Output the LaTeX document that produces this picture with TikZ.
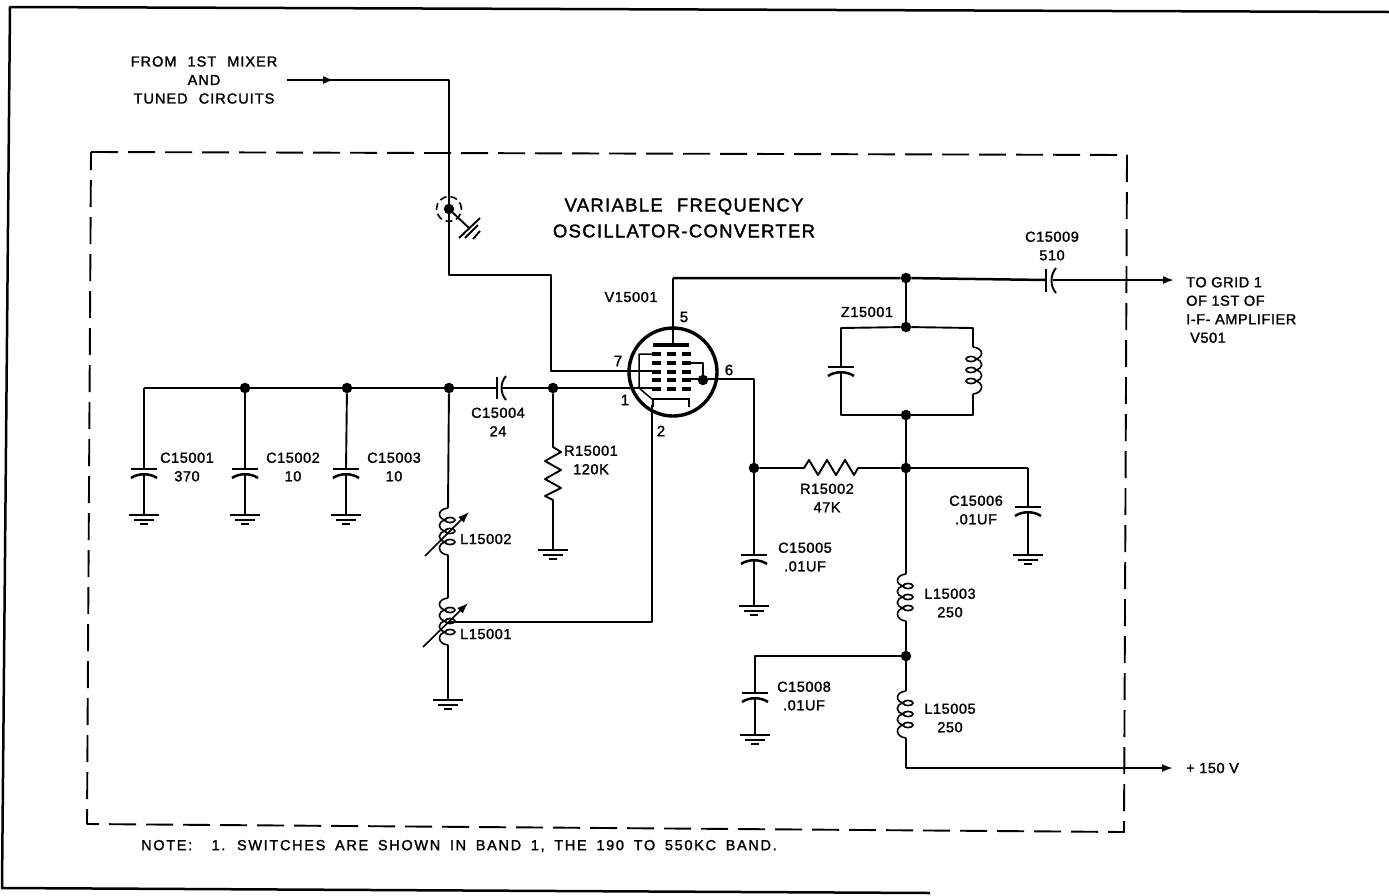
\documentclass[tikz,border=0pt]{standalone}
\usepackage{fontspec}
\setmainfont{Liberation Sans}[LetterSpace=4,FakeBold=1.6]
\newfontfamily\widefont{Liberation Sans}[LetterSpace=7,WordSpace=2.2,FakeBold=1.6]
\newfontfamily\notefont{Liberation Sans}[LetterSpace=11.6,WordSpace=1.7,FakeBold=1.6]
\usetikzlibrary{calc,positioning,arrows,arrows.meta}

\tikzset{
    wire/.style={line width=1.9pt,line join=round},
    rail/.style={line width=2.5pt,line join=round},
    heavy/.style={line width=3.4pt},
    dot/.style={circle,fill=black,inner sep=0pt,minimum size=10.5pt},
    lbl/.style={align=center,inner sep=0pt,font=\fontsize{14.5}{18.5}\selectfont},
    lblleft/.style={lbl,anchor=west,align=left},
    widelbl/.style={lbl,font=\fontsize{14.5}{18.5}\selectfont\widefont},
    notelbl/.style={lbl,anchor=west,font=\fontsize{14.5}{18.5}\selectfont\notefont},
    title/.style={align=center,inner sep=0pt,font=\fontsize{18.5}{26}\selectfont\widefont},
    pin/.style={inner sep=0pt,font=\fontsize{15}{18}\selectfont},
    tiparrow/.style={wire,-{Latex[length=11pt,width=8pt]}},
    capv/.pic={
        \coordinate (-top) at (0,0);
        \coordinate (-bot) at (0,5);
        \draw[rail] (-13,0) -- (13,0);
        \draw[rail] (-13,9) .. controls (-6,4) and (6,4) .. (13,9);
    },
    gnd/.pic={
        \draw[rail] (-15,0) -- (15,0);
        \draw[rail] (-10,5) -- (10,5);
        \draw[rail] (-4,9) -- (4,9);
    },
    coil/.pic={
        \coordinate (-top) at (0,0);
        \coordinate (-bot) at (0,47);
        \draw[wire,line width=1.6pt] (0,0) .. controls (-11,1) and (-11,11) .. (-2,12)
            .. controls (-11,13) and (-11,22) .. (-2,23)
            .. controls (-11,24) and (-11,33) .. (-2,34)
            .. controls (-11,35) and (-11,46) .. (0,47);
        \foreach \ly in {12,23,34}
            \draw[line width=1.6pt] (2,\ly) ellipse (5 and 2.6);
    },
}

\begin{document}
\begin{tikzpicture}[x=1pt,y=-1pt]
    \useasboundingbox (0,0) rectangle (1389,895);

    % Frame.
    \coordinate (frametr) at (1389,12);
    \coordinate (frametl) at (10,7);
    \coordinate (framebl) at (2,888);
    \coordinate (framebr) at (930,893);
    \draw[rail] (frametr) -- (frametl) -- (framebl) -- (framebr);

    % Dashed box.
    \coordinate (boxtl) at (91,152);
    \coordinate (boxtr) at (1127,155);
    \coordinate (boxbr) at (1124,832);
    \coordinate (boxbl) at (87,824);
    \draw[wire,dash pattern=on 27pt off 10pt] (boxtl) -- (boxtr) -- (boxbr) -- (boxbl) -- cycle;

    % Input from mixer.
    \node[widelbl] (fromlbl) at (204,80) {FROM 1ST MIXER\\AND\\TUNED CIRCUITS};
    \coordinate (mixstart) at (287,80);
    \coordinate (mixtip) at (334,80);
    \coordinate (mixcorner) at (449,80);
    \coordinate (shieldcorner) at (449,275);
    \coordinate (gridcorner) at (551,275);
    \coordinate (gridturn) at (551,371);
    \coordinate (gridthree) at (653,371);
    \draw[wire] (mixstart) -- (mixcorner) -- (shieldcorner) -- (gridcorner) -- (gridturn) -- (gridthree);
    \draw[tiparrow] (mixstart) -- (mixtip);

    % Shield.
    \node[dot] (shielddot) at (449,209) {};
    \node[circle,draw,line width=1.6pt,dash pattern=on 7pt off 4pt,minimum size=25pt,inner sep=0pt] (shield) at (449,209) {};
    \coordinate (hatch) at (469,228);
    \draw[wire] (shielddot) -- (hatch);
    \draw[wire] (480,218) -- (459,238);
    \draw[wire] (478,225) -- (465,238);
    \draw[wire] (480,231) -- (473,239);

    \node[title] (titlelbl) at (684,218) {VARIABLE FREQUENCY\\OSCILLATOR-CONVERTER};

    % Tube.
    \node[circle,draw,line width=3.4pt,minimum size=88pt,inner sep=0pt] (tube) at (673,372) {};
    \node[lbl] (tubelbl) at (631,297) {V15001};
    \node[pin] (pinfive) at (684,317) {5};
    \node[pin] (pinseven) at (618,361) {7};
    \node[pin] (pinsix) at (729,370) {6};
    \node[pin] (pinone) at (625,400) {1};
    \node[pin] (pintwo) at (661,431) {2};
    \foreach \ry in {354,363,372,380,389}
        \foreach \rx in {652,667,682}
            \draw[heavy] (\rx,\ry) -- (\rx+9,\ry);
    \draw[heavy] (653,345) -- (689,345);
    \draw[line width=2.6pt] (653,407) -- (653,399) -- (689,399) -- (689,407);
    \draw[wire,line width=1.5pt] (652,354) -- (639,354) -- (639,388) -- (653,400);
    \coordinate (screen) at (691,363);
    \coordinate (screenturn) at (703,363);
    \node[dot] (cathdot) at (703,380) {};
    \draw[wire] (screen) -- (screenturn) -- (cathdot);

    % Top rail.
    \coordinate (platetop) at (673,278);
    \coordinate (plate) at (673,345);
    \node[dot] (railz) at (906,278) {};
    \coordinate (cnineleft) at (1046,280);
    \coordinate (cnineright) at (1053,280);
    \coordinate (railtip) at (1174,280);
    \draw[wire] (plate) -- (platetop);
    \draw[rail] (platetop) -- (railz) -- (cnineleft);
    \draw[wire] (1046,269) -- (1046,292);
    \draw[wire] (1056,268) .. controls (1050,275) and (1050,286) .. (1056,293);
    \draw[tiparrow] (cnineright) -- (railtip);
    \node[lbl] (cninelbl) at (1052,246) {C15009\\510};
    \node[lblleft] (gridlbl) at (1186,310) {TO GRID 1\\OF 1ST OF\\I-F- AMPLIFIER\\\hspace*{4pt}V501};

    % Z15001
    \node[dot] (ztop) at (906,327) {};
    \node[dot] (zbot) at (906,415) {};
    \node[lbl] (zlbl) at (867,312) {Z15001};
    \coordinate (ztl) at (841,328);
    \coordinate (ztr) at (973,328);
    \coordinate (zbl) at (841,415);
    \coordinate (zbr) at (973,415);
    \pic (zcap) at (841,367) {capv};
    \pic[xscale=-1] (zcoil) at (973,347) {coil};
    \draw[wire] (railz) -- (ztop);
    \draw[wire] (zcap-top) -- (ztl) -- (ztop) -- (ztr) -- (zcoil-top);
    \draw[wire] (zcap-bot) -- (zbl) -- (zbot) -- (zbr) -- (zcoil-bot);

    % Grid line.
    \coordinate (gridend) at (144,388);
    \coordinate (gridone) at (653,388);
    \node[dot] (railtwo) at (245,388) {};
    \node[dot] (railthree) at (347,388) {};
    \node[dot] (railcoil) at (449,388) {};
    \node[dot] (railres) at (553,388) {};
    \coordinate (cfourleft) at (497,388);
    \coordinate (cfourright) at (502,388);
    \draw[rail] (gridend) -- (railtwo) -- (railthree) -- (railcoil) -- (cfourleft);
    \draw[wire] (497,377) -- (497,399);
    \draw[wire] (506,376) .. controls (500,383) and (500,393) .. (506,400);
    \draw[rail] (cfourright) -- (railres) -- (gridone);
    \node[lbl] (cfourlbl) at (498,422) {C15004\\24};

    % C15001 to C15003
    \foreach \c/\x/\from/\txt/\val/\tx in {1/144/gridend/C15001/370/187,2/245/railtwo/C15002/10/293,3/346/railthree/C15003/10/394}
    {
        \pic (cap\c) at (\x,469) {capv};
        \pic at (\x,515) {gnd};
        \coordinate (gnd\c) at (\x,515);
        \draw[wire] (\from) -- (cap\c-top);
        \draw[wire] (cap\c-bot) -- (gnd\c);
        \node[lbl] (cap\c lbl) at (\tx,467) {\txt\\\val};
    }

    % R15001
    \coordinate (rtop) at (553,447);
    \coordinate (rbot) at (553,500);
    \coordinate (rgnd) at (553,550);
    \draw[wire] (railres) -- (rtop) -- (561,452) -- (545,461) -- (561,470) -- (545,479) -- (561,488) -- (545,496) -- (rbot) -- (rgnd);
    \pic at (553,550) {gnd};
    \node[lbl] (rlbl) at (591,460) {R15001\\120K};

    % L15002 and L15001
    \pic (ltwo) at (448,508) {coil};
    \pic (lone) at (448,598) {coil};
    \coordinate (lgnd) at (448,700);
    \pic at (448,700) {gnd};
    \draw[wire] (railcoil) -- (ltwo-top);
    \draw[wire] (ltwo-bot) -- (lone-top);
    \draw[wire] (lone-bot) -- (lgnd);
    \coordinate (ltwostart) at (425,556);
    \coordinate (ltwotip) at (469,512);
    \coordinate (lonestart) at (423,647);
    \coordinate (lonetip) at (468,603);
    \draw[tiparrow,line width=1.6pt] (ltwostart) -- (ltwotip);
    \draw[tiparrow,line width=1.6pt] (lonestart) -- (lonetip);
    \node[lblleft] (ltwolbl) at (460,539) {L15002};
    \node[lblleft] (lonelbl) at (460,634) {L15001};
    \coordinate (taptwo) at (448,622);
    \coordinate (tapcorner) at (652,622);
    \coordinate (cathode) at (652,405);
    \draw[wire] (taptwo) -- (tapcorner) -- (cathode);

    % Pin 6 and R15002
    \coordinate (sixstart) at (691,379);
    \coordinate (sixcorner) at (754,379);
    \node[dot] (sixdot) at (754,468) {};
    \node[dot] (rightdot) at (906,468) {};
    \draw[wire] (sixstart) -- (sixcorner) -- (sixdot);
    \draw[wire] (sixdot) -- (804,468) -- (809,460) -- (818,475) -- (827,460) -- (836,475) -- (845,460) -- (854,475) -- (858,468) -- (rightdot);
    \draw[wire] (zbot) -- (rightdot);
    \node[lbl] (rtwolbl) at (827,498) {R15002\\47K};

    % C15005
    \pic (capfive) at (754,555) {capv};
    \pic at (754,606) {gnd};
    \coordinate (gndfive) at (754,606);
    \draw[wire] (sixdot) -- (capfive-top);
    \draw[wire] (capfive-bot) -- (gndfive);
    \node[lbl] (capfivelbl) at (805,557) {C15005\\.01UF};

    % C15006
    \coordinate (sixcapcorner) at (1028,468);
    \pic (capsix) at (1028,507) {capv};
    \pic at (1028,555) {gnd};
    \coordinate (gndsix) at (1028,555);
    \draw[rail] (rightdot) -- (sixcapcorner);
    \draw[wire] (sixcapcorner) -- (capsix-top);
    \draw[wire] (capsix-bot) -- (gndsix);
    \node[lbl] (capsixlbl) at (976,510) {C15006\\.01UF};

    % L15003
    \pic (lthree) at (906,574) {coil};
    \draw[wire] (rightdot) -- (lthree-top);
    \node[lbl] (lthreelbl) at (950,603) {L15003\\250};
    \node[dot] (lowdot) at (906,656) {};
    \draw[wire] (lthree-bot) -- (lowdot);

    % C15008
    \coordinate (eightcorner) at (755,656);
    \pic (capeight) at (755,693) {capv};
    \pic at (755,735) {gnd};
    \coordinate (gndeight) at (755,735);
    \draw[wire] (lowdot) -- (eightcorner) -- (capeight-top);
    \draw[wire] (capeight-bot) -- (gndeight);
    \node[lbl] (capeightlbl) at (804,696) {C15008\\.01UF};

    % L15005
    \pic (lfive) at (906,691) {coil};
    \coordinate (fivecorner) at (906,768);
    \coordinate (fivetip) at (1173,768);
    \draw[wire] (lowdot) -- (lfive-top);
    \draw[wire] (lfive-bot) -- (fivecorner);
    \draw[tiparrow] (fivecorner) -- (fivetip);
    \node[lbl] (lfivelbl) at (950,718) {L15005\\250};
    \node[lblleft] (voltlbl) at (1186,768) {+ 150 V};

    % Note
    \node[notelbl] (notetext) at (141,846) {NOTE:\ \ 1. SWITCHES ARE SHOWN IN BAND 1, THE 190 TO 550KC BAND.};
\end{tikzpicture}
\end{document}
